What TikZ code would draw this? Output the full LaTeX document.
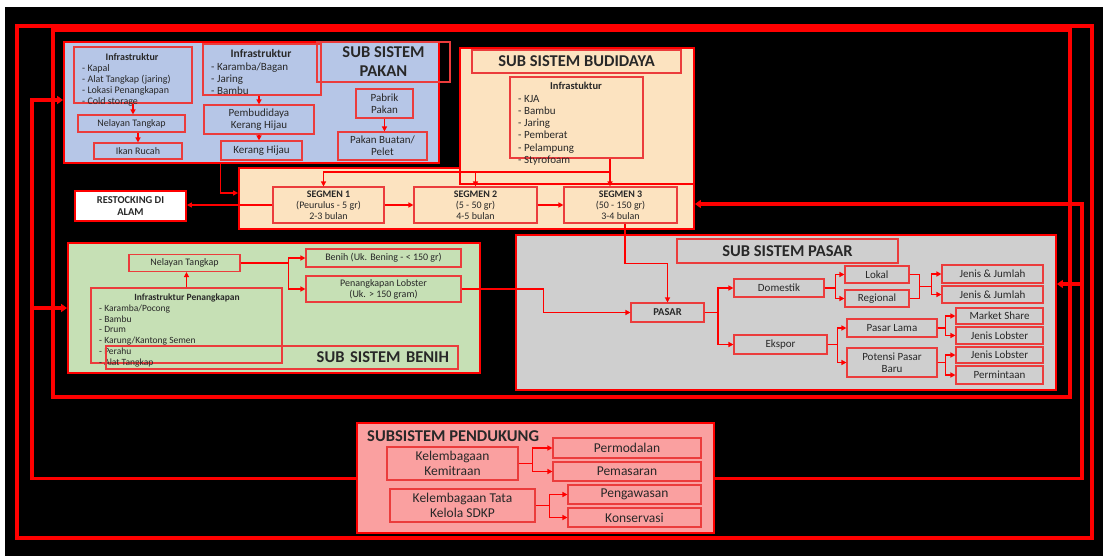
\documentclass[tikz,border=0pt]{standalone}
\usepackage{fontspec}
\setmainfont{Carlito}
\usetikzlibrary{arrows.meta,calc}

\definecolor{pakanblue}{RGB}{182,198,231}
\definecolor{budipeach}{RGB}{252,227,192}
\definecolor{benihgreen}{RGB}{198,224,181}
\definecolor{pasargray}{RGB}{207,207,207}
\definecolor{dukungpink}{RGB}{250,160,160}
\definecolor{boxred}{RGB}{235,60,60}
\definecolor{txtgray}{RGB}{40,40,40}
\definecolor{linkred}{RGB}{255,0,0}

\newcommand{\fsz}[2]{\fontsize{#1}{#2}\selectfont}

\begin{document}
\begin{tikzpicture}
		[x=1pt,y=-1pt,
		sz/.style 2 args={minimum width=#1pt,minimum height=#2pt},
		sub/.style={draw=red,line width=1.8pt,inner sep=0pt},
		b/.style={draw=boxred,line width=1.1pt,inner sep=1pt,text=txtgray,align=center,font=\fsz{10}{11}},
		lbl/.style={inner sep=0pt,text=txtgray,align=left},
		ttl/.style={font=\bfseries\fsz{16.5}{19}},
		cn/.style={draw=red,line width=1.3pt},
		ar/.style={cn,-{Triangle[length=5pt,width=5pt]}},
		far/.style={ar,line width=1.8pt},
		fbline/.style={draw=linkred,line width=3.2pt,line cap=rect,line join=miter},
		feedback/.style={draw=linkred,line width=3.2pt,-{Triangle[length=6pt,width=8pt]}},
		outer/.style={draw=red,line width=3.2pt}]

		\useasboundingbox (0,0) rectangle (1103,556);
		\fill[white] (0,0) rectangle (1103,556);
		\fill[black] (5,7) rectangle (1103,556);

		% frames
		\draw[outer] (17,26) rectangle (1092,538);
		\draw[outer] (53,30) rectangle (1070,397);

		% feedback loops
		\coordinate (lup) at (32,100);
		\coordinate (rup) at (1082,204);
		\coordinate (rpas) at (1082,284);
		\coordinate (ldown) at (32,478.5);
		\coordinate (rdown) at (1082,478.5);
		\draw[fbline] (ldown) -- (lup);
		\draw[fbline] (rdown) -- (rup);

		% sub sistem pakan
		\node[sub,fill=pakanblue,sz={375}{121}] (pakan) at (251.5,102.5) {};
		\node[b,ttl,sz={133}{40}] (pakantl) at (383.5,62) {SUB SISTEM\\PAKAN};

		\node[b,sz={118}{56}] (pinfra) at (133,75) {};
		\node[lbl,font=\bfseries\fsz{10}{11}] (pinfrah) at (132,57) {Infrastruktur};
		\node[lbl,anchor=north west,font=\fsz{10}{11}] (pinfral) at (82,64)
			{- Kapal\\- Alat Tangkap (jaring)\\- Lokasi Penangkapan\\- Cold storage};
		\node[b,sz={107}{17}] (pnelayan) at (131.5,123.5) {Nelayan Tangkap};
		\node[b,sz={88}{16}] (pikan) at (138,151) {Ikan Rucah};
		\draw[ar] (pinfra.south) -- (pinfra.south |- pnelayan.north);
		\draw[ar] (pikan.north |- pnelayan.south) -- (pikan.north);

		\node[b,sz={118}{51}] (pinfrb) at (262,69.5) {};
		\node[lbl,font=\bfseries\fsz{11.5}{12}] (pinfrbh) at (261,54) {Infrastruktur};
		\node[lbl,anchor=north west,font=\fsz{11}{12}] (pinfrbl) at (211,63)
			{- Karamba/Bagan\\- Jaring\\- Bambu};
		\node[b,sz={110}{29},font=\fsz{11}{12}] (pbudi) at (259,119.5) {Pembudidaya\\Kerang Hijau};
		\node[b,sz={81}{19},font=\fsz{11}{12}] (pkerang) at (261.5,150.5) {Kerang Hijau};
		\draw[ar] (pbudi.north |- pinfrb.south) -- (pbudi.north);
		\draw[ar] (pbudi.south) -- (pbudi.south |- pkerang.north);

		\node[b,sz={57}{29},font=\fsz{11}{12}] (pabrik) at (384.5,103.5) {Pabrik\\Pakan};
		\node[b,sz={89}{28},font=\fsz{11}{12}] (pelet) at (382.5,146) {Pakan Buatan/\\Pelet};
		\draw[ar] (pabrik.south) -- (pabrik.south |- pelet.north);

		% sub sistem budidaya
		\node[sub,fill=budipeach,sz={455}{61}] (segstrip) at (466.5,198.5) {};
		\node[sub,fill=budipeach,sz={234}{136}] (budidaya) at (577,116) {};
		\node[b,ttl,sz={209}{23}] (buditl) at (576.5,61.5) {SUB SISTEM BUDIDAYA};
		\node[b,sz={133}{81}] (binfra) at (576.5,117.5) {};
		\node[lbl,font=\bfseries\fsz{10.5}{12}] (binfrah) at (576,86) {Infrastuktur};
		\node[lbl,anchor=north west,font=\fsz{11}{12.2}] (binfral) at (518,95)
			{- KJA\\- Bambu\\- Jaring\\- Pemberat\\- Pelampung\\- Styrofoam};

		\node[b,sz={111}{36}] (seg1) at (328.5,205) {\textbf{SEGMEN 1}\\(Peurulus - 5 gr)\\2-3 bulan};
		\node[b,sz={123}{36}] (seg2) at (475.5,205) {\textbf{SEGMEN 2}\\(5 - 50 gr)\\4-5 bulan};
		\node[b,sz={113}{36}] (seg3) at (620.5,205) {\textbf{SEGMEN 3}\\(50 - 150 gr)\\3-4 bulan};
		\draw[ar] (seg1.east) -- (seg2.west);
		\draw[ar] (seg2.east) -- (seg3.west);

		\coordinate (bsplit) at (610,172);
		\draw[ar] (bsplit |- binfra.south) -- (bsplit |- seg3.north);
		\draw[ar] (bsplit) -| ([xshift=-5]seg1.north);
		\draw[ar] (bsplit -| seg2.north) -- (seg2.north);
		\draw[far] (pkerang.south west |- pakan.south) |- ([yshift=5.5]segstrip.west);

		\node[b,fill=white,draw=red,line width=1.8pt,sz={111}{30},font=\bfseries\fsz{10.5}{12}] (restock) at (130.5,206) {RESTOCKING DI\\ALAM};
		\draw[far] (seg1.west) -- (seg1.west -| restock.east);

		% sub sistem benih
		\node[sub,fill=benihgreen,sz={412}{130}] (benih) at (274,308) {};
		\node[b,sz={111}{17}] (bnelayan) at (184.5,263) {Nelayan Tangkap};
		\node[b,sz={155}{18}] (bbenih) at (383.5,258) {Benih (Uk. Bening - < 150 gr)};
		\node[b,sz={155}{26}] (blobster) at (383.5,289) {Penangkapan Lobster\\(Uk. > 150 gram)};
		\node[b,sz={191}{75}] (binfrp) at (186.5,325.5) {};
		\node[lbl,font=\bfseries\fsz{9.5}{11}] (binfrph) at (187,298) {Infrastruktur Penangkapan};
		\node[lbl,anchor=north west,font=\fsz{9.5}{10.8}] (binfrpl) at (99,304.5)
			{- Karamba/Pocong\\- Bambu\\- Drum\\- Karung/Kantong Semen\\- Perahu\\- Alat Tangkap};
		\node[b,ttl,sz={352}{23},align=right,text width=334pt] (benihtl) at (282,357.5) {SUB SISTEM BENIH};
		\draw[ar] (binfrp.north) -- (binfrp.north |- bnelayan.south);
		\draw[far] (bnelayan.east) -- ++(48,0) |- (bbenih.west);
		\draw[far] (bnelayan.east) -- ++(48,0) |- (blobster.west);

		% sub sistem pasar
		\node[sub,fill=pasargray,sz={540}{155}] (pasar) at (786,312.5) {};
		\node[b,ttl,sz={221}{24}] (pasartl) at (787.5,251) {SUB SISTEM PASAR};
		\node[b,sz={73}{19},font=\bfseries\fsz{10.5}{12}] (pasarn) at (667.5,312.5) {PASAR};
		\node[b,sz={90}{18},font=\fsz{11}{12}] (domestik) at (779,288) {Domestik};
		\node[b,sz={93}{19},font=\fsz{11}{12}] (ekspor) at (780.5,344.5) {Ekspor};
		\node[b,sz={64}{17},font=\fsz{11}{12}] (lokal) at (877,274.5) {Lokal};
		\node[b,sz={64}{17},font=\fsz{11}{12}] (regional) at (877,298.5) {Regional};
		\node[b,sz={101}{18},font=\fsz{11}{12}] (jj1) at (992.5,274) {Jenis \& Jumlah};
		\node[b,sz={101}{17},font=\fsz{11}{12}] (jj2) at (992.5,294.5) {Jenis \& Jumlah};
		\node[b,sz={90}{18},font=\fsz{11}{12}] (pasarlama) at (892,328) {Pasar Lama};
		\node[b,sz={90}{29},font=\fsz{11}{12}] (potensi) at (892,362.5) {Potensi Pasar\\Baru};
		\node[b,sz={87}{16},font=\fsz{11}{12}] (mshare) at (999.5,316) {Market Share};
		\node[b,sz={87}{17},font=\fsz{11}{12}] (jl1) at (999.5,335.5) {Jenis Lobster};
		\node[b,sz={87}{16},font=\fsz{11}{12}] (jl2) at (999.5,355) {Jenis Lobster};
		\node[b,sz={87}{18},font=\fsz{11}{12}] (minta) at (999.5,375) {Permintaan};

		\draw[far] ([xshift=4.5]seg3.south) -- ++(0,40) -| (pasarn.north);
		\draw[far] (blobster.east) -- ++(82,0) |- (pasarn.west);
		\draw[ar] (pasarn.east) -- ++(13.5,0) |- (domestik.west);
		\draw[ar] (pasarn.east) -- ++(13.5,0) |- (ekspor.west);
		\draw[ar] (domestik.east) -- ++(11,0) |- (lokal.west);
		\draw[ar] (domestik.east) -- ++(11,0) |- (regional.west);
		\coordinate (lrmid) at ($(lokal.east)!0.5!(regional.east)+(10,0)$);
		\draw[cn] (lokal.east) -| (lrmid) |- (regional.east);
		\draw[ar] (lrmid) -- ++(12,0) |- (jj1.west);
		\draw[ar] (lrmid) -- ++(12,0) |- (jj2.west);
		\draw[ar] (ekspor.east) -- ++(10,0) |- (pasarlama.west);
		\draw[ar] (ekspor.east) -- ++(10,0) |- (potensi.west);
		\draw[ar] (pasarlama.east) -- ++(8,0) |- (mshare.west);
		\draw[ar] (pasarlama.east) -- ++(8,0) |- (jl1.west);
		\draw[ar] (potensi.east) -- ++(8,0) |- (jl2.west);
		\draw[ar] (potensi.east) -- ++(8,0) |- (minta.west);

		% subsistem pendukung
		\node[sub,fill=dukungpink,sz={357}{110}] (dukung) at (535.5,478) {};
		\node[lbl,ttl,anchor=west] (dukungtl) at (367,436) {SUBSISTEM PENDUKUNG};
		\node[b,sz={131}{33},font=\fsz{13.5}{15}] (mitra) at (452.5,463.5) {Kelembagaan\\Kemitraan};
		\node[b,sz={148}{20},font=\fsz{13.5}{15}] (modal) at (627,448) {Permodalan};
		\node[b,sz={148}{19},font=\fsz{13.5}{15}] (pemasaran) at (627,471.5) {Pemasaran};
		\node[b,sz={145}{33},font=\fsz{13.5}{15}] (tatakelola) at (462.5,505.5) {Kelembagaan Tata\\Kelola SDKP};
		\node[b,sz={133}{19},font=\fsz{13.5}{15}] (awas) at (634.5,494.5) {Pengawasan};
		\node[b,sz={133}{19},font=\fsz{13.5}{15}] (konservasi) at (634.5,517.5) {Konservasi};
		\draw[ar] (mitra.east) -- ++(14,0) |- (modal.west);
		\draw[ar] (mitra.east) -- ++(14,0) |- (pemasaran.west);
		\draw[ar] (tatakelola.east) -- ++(14,0) |- (awas.west);
		\draw[ar] (tatakelola.east) -- ++(14,0) |- (konservasi.west);

		% feedback arrows
		\draw[fbline] (dukung.west |- ldown) -- (ldown);
		\draw[fbline] (dukung.east |- rdown) -- (rdown);
		\draw[feedback] (lup) -- (lup -| pakan.west);
		\draw[feedback] (lup |- benih.west) -- (benih.west);
		\draw[feedback] (rup) -- (rup -| segstrip.east);
		\draw[feedback] (rpas) -- (rpas -| pasar.east);

\end{tikzpicture}
\end{document}
